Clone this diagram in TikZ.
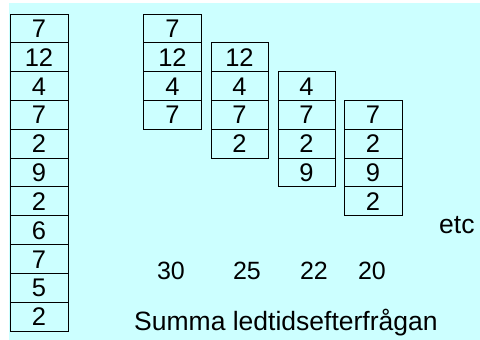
\documentclass[tikz,border=0pt]{standalone}
\usepackage{fontspec}
\setmainfont{Liberation Sans}
\definecolor{bgcyan}{HTML}{CCFFFF}
\begin{document}
\begin{tikzpicture}[x=1pt,y=-1pt,
  cell/.style={draw=black,line width=1pt,minimum width=58pt,minimum height=28.82pt,
    inner sep=0pt,font=\fontsize{25.5}{25.5}\selectfont,text height=18.2pt,text depth=0pt},
  sumlbl/.style={anchor=base,inner sep=0pt,font=\fontsize{25}{25}\selectfont},
  bigtxt/.style={anchor=base west,inner sep=0pt,font=\fontsize{26.5}{26.5}\selectfont}]
\useasboundingbox (0,0) rectangle (480,340);
\fill[bgcyan] (9,3) rectangle (480,340);
\def\rh{28.82}
% left column
\foreach \v [count=\i from 0] in {7,12,4,7,2,9,2,6,7,5,2}{
  \node[cell] (L\i) at (39,{14+\rh*(\i+0.5)}) {\v};
}
% column A
\foreach \v [count=\i from 0] in {7,12,4,7}{
  \node[cell] (A\i) at (172.5,{14+\rh*(\i+0.5)}) {\v};
}
% column B
\foreach \v [count=\i from 1] in {12,4,7,2}{
  \node[cell,minimum width=57pt] (B\i) at (239.5,{14+\rh*(\i+0.5)}) {\v};
}
% column C
\foreach \v [count=\i from 2] in {4,7,2,9}{
  \node[cell,minimum width=57pt] (C\i) at (306.5,{14+\rh*(\i+0.5)}) {\v};
}
% column D
\foreach \v [count=\i from 3] in {7,2,9,2}{
  \node[cell] (D\i) at (373,{14+\rh*(\i+0.5)}) {\v};
}
\node[sumlbl] (s1) at (171,279) {30};
\node[sumlbl] (s2) at (247,279) {25};
\node[sumlbl] (s3) at (314,279) {22};
\node[sumlbl] (s4) at (372,279) {20};
\node[bigtxt] (etc) at (439,233) {etc};
\node[bigtxt] (summa) at (134,330) {Summa ledtidsefterfrågan};
\end{tikzpicture}
\end{document}
